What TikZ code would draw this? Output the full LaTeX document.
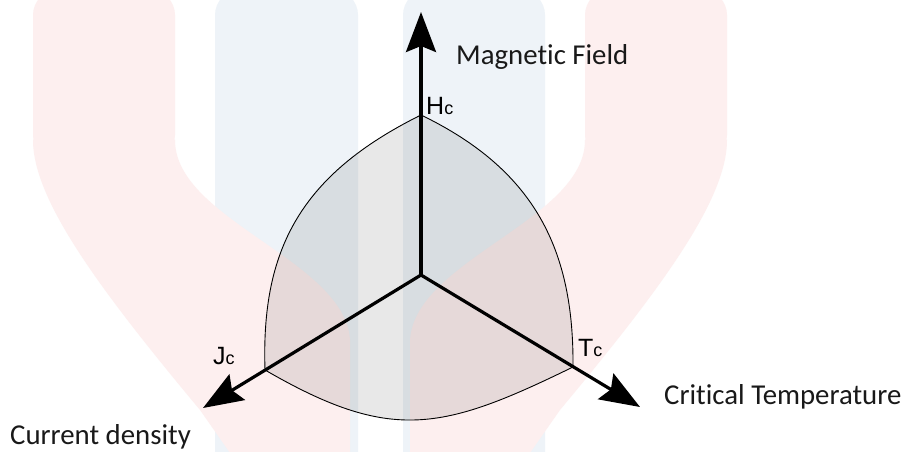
\documentclass[tikz,border=0pt]{standalone}
\usepackage{fontspec}
\setmainfont{Carlito}[Ligatures=NoCommon]
\newfontfamily\arialf{Liberation Sans}
\usetikzlibrary{arrows.meta}
\definecolor{wmpink}{HTML}{FDEFEF}
\definecolor{wmblue}{HTML}{EEF3F8}
\tikzset{
  axisline/.style={line width=3.2bp, -{Stealth[length=40bp,width=30bp,inset=6bp]}},
  bigtext/.style={font=\fontsize{28.8bp}{32bp}\selectfont, anchor=base west, inner sep=0pt, text=black!90},
  critlabel/.style={font=\arialf\fontsize{25bp}{28bp}\selectfont, anchor=base west, inner sep=0pt},
  region/.style={fill=black, fill opacity=0.09, draw=black, line width=0.9bp},
}
\newcommand{\smallc}{{\fontsize{18bp}{20bp}\selectfont c}}
\begin{document}
\begin{tikzpicture}[x=1bp,y=-1bp]
\useasboundingbox (0,0) rectangle (913,452);
\clip (0,0) rectangle (913,452);
\fill[white] (0,0) rectangle (913,452);
% faint watermark
\fill[wmblue, rounded corners=25bp] (215,-10) rectangle (358,490);
\fill[wmblue, rounded corners=25bp] (403,-10) rectangle (545,490);
\fill[wmpink, rounded corners=25bp] (33,-10) rectangle (175,160);
\fill[wmpink] (33,140) .. controls (33,200) and (100,290) .. (200,410) -- (235,460) -- (350,460) -- (350,340) .. controls (345,260) and (175,220) .. (175,140) -- cycle;
\fill[wmpink, rounded corners=25bp] (585,-10) rectangle (727,160);
\fill[wmpink] (727,140) .. controls (727,200) and (660,290) .. (560,410) -- (525,460) -- (410,460) -- (410,340) .. controls (415,260) and (585,220) .. (585,140) -- cycle;
% points
\coordinate (O) at (421,275);
\coordinate (Hc) at (421,115);
\coordinate (Jc) at (265,370);
\coordinate (Tc) at (573,367);
\coordinate (Htip) at (421,12);
\coordinate (Jtip) at (203,408);
\coordinate (Ttip) at (640,407);
% critical surface
\filldraw[region] (Hc) .. controls (300,175) and (261,250) .. (Jc)
  .. controls (391,443) and (442,431) .. (Tc)
  .. controls (574,250) and (535,170) .. (Hc) -- cycle;
% axes
\draw[axisline] (O) -- (Htip);
\draw[axisline] (O) -- (Jtip);
\draw[axisline] (O) -- (Ttip);
% labels
\node[critlabel] (hl) at (426,115) {H\smallc};
\node[critlabel] (jl) at (213,365) {J\smallc};
\node[critlabel] (tl) at (578,357) {T\smallc};
\node[bigtext] (mf) at (456,65) {Magnetic Field};
\node[bigtext] (ct) at (664,404) {Critical Temperature};
\node[bigtext] (cd) at (10,444) {Current density};
\end{tikzpicture}
\end{document}
